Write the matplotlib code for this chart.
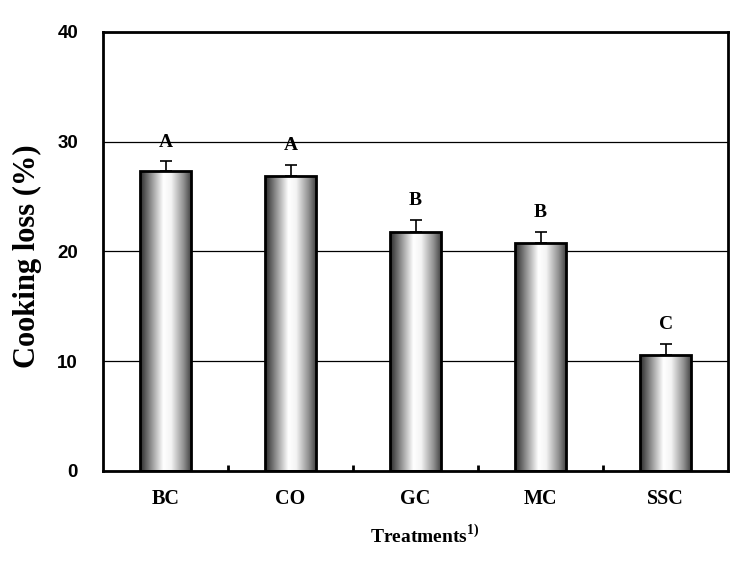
import numpy as np
import matplotlib.pyplot as plt
from matplotlib.colors import LinearSegmentedColormap

# data
treatments = ['BC', 'CO', 'GC', 'MC', 'SSC']
cooking_loss = [27.3, 26.9, 21.8, 20.8, 10.6]
sd = [0.9, 1.0, 1.1, 1.0, 1.0]
letters = ['A', 'A', 'B', 'B', 'C']

serif = ['Liberation Serif', 'DejaVu Serif']
plt.rcParams['mathtext.fontset'] = 'custom'
plt.rcParams['mathtext.bf'] = 'Liberation Serif:bold'
plt.rcParams['mathtext.rm'] = 'Liberation Serif'

fig = plt.figure(figsize=(7.38, 5.70), dpi=100)
ax = fig.add_axes([0.1396, 0.1737, 0.847, 0.7702])

x = np.arange(len(treatments))
width = 0.41

# cylinder look: dark edges, white toward the middle
cyl = LinearSegmentedColormap.from_list(
    'cyl', [(0, '#2a2a2a'), (0.2, '#8a8a8a'), (0.45, '#ffffff'),
            (0.6, '#f4f4f4'), (0.85, '#8c8c8c'), (1, '#3a3a3a')])
grad = np.linspace(0, 1, 256).reshape(1, -1)

bars = ax.bar(x, cooking_loss, width, color='none', edgecolor='black',
              linewidth=2, zorder=3)
for b in bars:
    x0, y0 = b.get_x(), b.get_y()
    im = ax.imshow(grad, cmap=cyl, aspect='auto',
                   extent=[x0, x0 + b.get_width(), y0, y0 + b.get_height()],
                   zorder=2)
    im.set_clip_path(b)

ax.errorbar(x, cooking_loss, yerr=[np.zeros(len(sd)), sd], fmt='none',
            ecolor='black', elinewidth=1.2, capsize=4, capthick=1.2, zorder=4)

for xi, v, s, l in zip(x, cooking_loss, sd, letters):
    ax.text(xi, v + s + 1.0, l, ha='center', va='bottom', fontsize=14,
            fontweight='bold', family=serif)

ax.set_xlim(-0.5, len(treatments) - 0.5)
ax.set_ylim(0, 40)
ax.set_yticks([0, 10, 20, 30, 40])
ax.set_yticklabels(['0', '10', '20', '30', '40'], fontsize=13.5,
                   fontweight='bold', family=['Liberation Sans', 'DejaVu Sans'])
ax.tick_params(axis='y', length=0, pad=18)
ax.yaxis.grid(True, color='black', linewidth=0.9)
ax.set_axisbelow(True)

ax.set_xticks(x)
ax.set_xticklabels(treatments, fontsize=14.5, fontweight='bold', family=serif)
ax.tick_params(axis='x', length=0, pad=13)
# small inward ticks between categories
ax.set_xticks(np.arange(0.5, len(treatments) - 1), minor=True)
ax.tick_params(axis='x', which='minor', direction='in', length=4, width=2)

for sp in ax.spines.values():
    sp.set_linewidth(2)

fig.text(27 / 738, 0.551, 'Cooking loss (%)', rotation=90, ha='center',
         va='center', fontsize=22, fontweight='bold', family=serif)
fig.text(0.575, 0.0614, r'Treatments$^{\mathbf{1)}}$', ha='center',
         va='center', fontsize=14, fontweight='bold', family=serif)

fig.savefig('out.png', dpi=100)
